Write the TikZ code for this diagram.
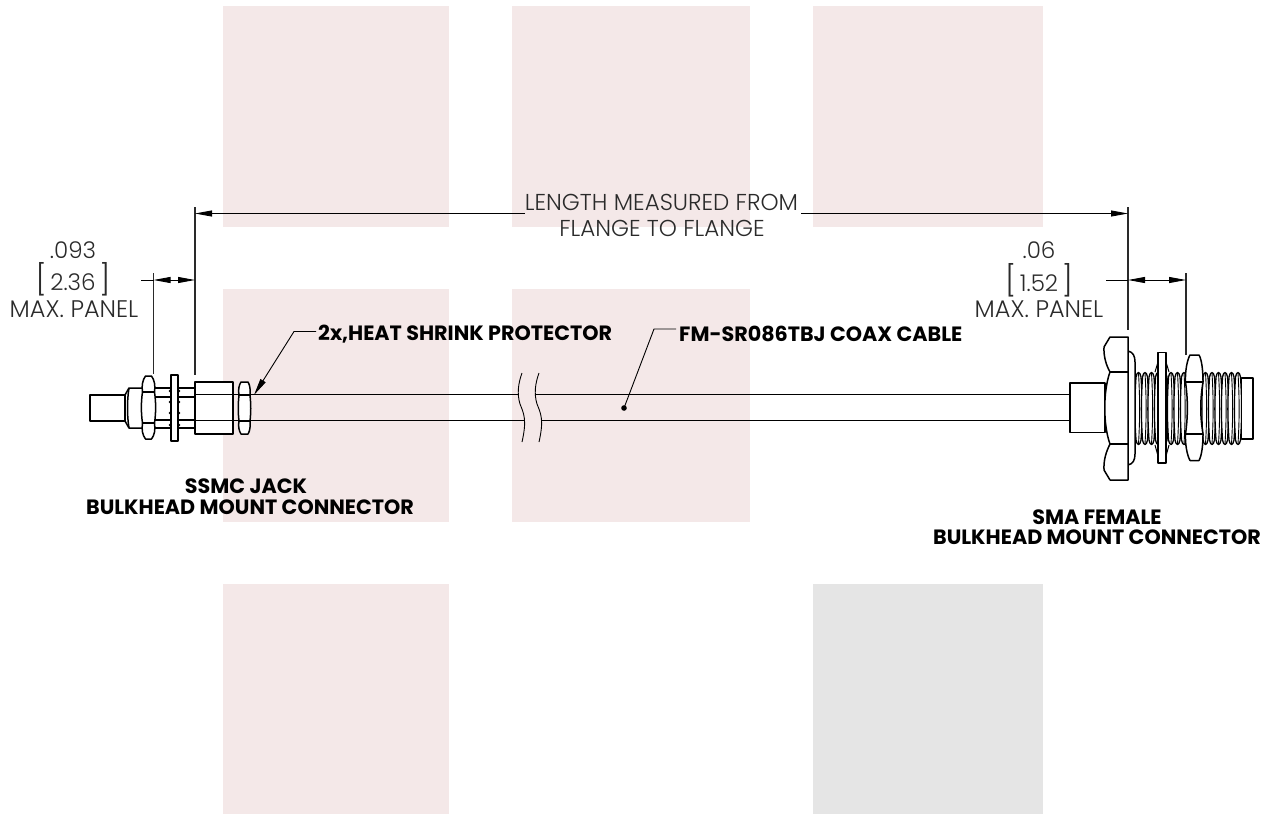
\documentclass[tikz,border=0pt]{standalone}
\usepackage{fontspec}
\setmainfont{Poppins Light}
\newfontfamily\boldf{Poppins Bold}
\usetikzlibrary{arrows.meta}
\definecolor{pinkb}{HTML}{F4E8E8}
\definecolor{grayb}{HTML}{E5E5E5}
\definecolor{inkc}{HTML}{2A2A2A}
\tikzset{
  blockp/.style={fill=pinkb,draw=none},
  blockg/.style={fill=grayb,draw=none},
  part/.style={draw=black,line width=1.5pt,line join=round,fill=white},
  partline/.style={draw=black,line width=1.5pt,line join=round},
  cableline/.style={draw=black,line width=1.3pt},
  thinl/.style={draw=black,line width=0.9pt},
  extl/.style={draw=inkc,line width=1.1pt},
  dimarrow/.style={draw=black,line width=0.9pt,-{Triangle[length=17pt,width=6pt]}},
  lab/.style={text=inkc,font=\fontsize{23}{23}\selectfont,inner sep=0pt,anchor=center},
  panellab/.style={lab,font=\fontsize{24}{24}\selectfont},
  blab/.style={text=black,font=\boldf\fontsize{20.7}{20.7}\selectfont,inner sep=0pt,anchor=center},
}
\newcommand{\thr}[1]{%
  \draw[part,line width=1.3pt,fill=white] (#1,377) .. controls (#1+1,371) and (#1+4,371) .. (#1+5,377)
   .. controls (#1+6.5,400) and (#1+6.5,418) .. (#1+5,440)
   .. controls (#1+4,446) and (#1+1,446) .. (#1,440)
   .. controls (#1-1.5,418) and (#1-1.5,400) .. (#1,377) -- cycle;
  \draw[line width=0.9pt] (#1+2.5,373) .. controls (#1+4,400) and (#1+4,418) .. (#1+2.5,444);}
\begin{document}
\begin{tikzpicture}[x=1pt,y=-1pt]
\useasboundingbox (0,0) rectangle (1273,814);
% background blocks
\fill[blockp] (223,6) rectangle (449,227);
\fill[blockp] (512,6) rectangle (750,227);
\fill[blockp] (813,6) rectangle (1043,227);
\fill[blockp] (223,289) rectangle (449,522);
\fill[blockp] (512,289) rectangle (750,522);
\fill[blockp] (223,584) rectangle (449,814);
\fill[blockg] (813,584) rectangle (1043,814);

% cable
\draw[cableline] (233,394.5) -- (238,394.5) (233,420.5) -- (238,420.5);
\draw[cableline] (250,394.5) -- (519,394.5) (250,420.5) -- (525,420.5);
\draw[cableline] (536,394.5) -- (1070,394.5) (542,420.5) -- (1070,420.5);
% break lines
\foreach \d in {0,17}{
  \draw[thinl] (522+\d,373) .. controls (518+\d,384) and (517+\d,394) .. (520+\d,404)
     .. controls (524+\d,414) and (527+\d,420) .. (522+\d,442);
}

% left connector
\draw[part] (90,395) rectangle (125,421);
\draw[part] (150,388) rectangle (172,428);
\draw[partline] (150,397) -- (195,397) (150,420) -- (195,420) (178,388) -- (195,388) (178,428) -- (195,428);
\draw[part] (125,395) -- (129,388) -- (143,388) -- (143,428) -- (129,428) -- (125,421) -- cycle;
\draw[partline] (129,388) .. controls (127,400) and (127,416) .. (129,428);
\draw[part] (145.5,376) -- (151.5,376) .. controls (154.5,380) and (155.5,386) .. (154.5,392)
  .. controls (156,402) and (156,413) .. (154.5,423)
  .. controls (155.5,430) and (154.5,435) .. (151.5,439) -- (145.5,439)
  .. controls (142.5,435) and (141.5,430) .. (142.5,423)
  .. controls (141,413) and (141,402) .. (142.5,392)
  .. controls (141.5,386) and (142.5,380) .. (145.5,376) -- cycle;
\draw[partline] (142.5,392) -- (154.5,392) (142.5,423) -- (154.5,423);
\fill (170,402) circle (1.3) (179,402) circle (1.3) (170,413) circle (1.3) (179,413) circle (1.3)
      (170,391) circle (1.3) (179,391) circle (1.3) (170,425) circle (1.3) (179,425) circle (1.3);
\draw[part] (171,375) rectangle (178,441);
\draw[part] (195,382) rectangle (233,434);
\draw[partline] (195,394.5) -- (233,394.5) (195,420.5) -- (233,420.5);
\draw[part] (241,382) -- (248,382) .. controls (250,385) and (250.5,390) .. (250,395)
  .. controls (251,405) and (251,412) .. (250,421)
  .. controls (250.5,426) and (250,431) .. (248,434) -- (241,434)
  .. controls (239,431) and (238,426) .. (239,421)
  .. controls (238,412) and (238,405) .. (239,395)
  .. controls (238,390) and (239,385) .. (241,382) -- cycle;
\draw[partline] (239,395) -- (250,395) (239,421) -- (250,421);

% right connector
\draw[part] (1070,383) rectangle (1105,432.5);
\fill[gray!70] (1136,378) rectangle (1186,440) (1203,378) rectangle (1242,440);
\foreach \x in {1136,1142.5,1149,1155.5,1162,1168.5,1175,1181.5}{\thr{\x}}
\foreach \x in {1203,1209.5,1216,1222.5,1229,1235.5}{\thr{\x}}
\draw[part] (1241.5,378) rectangle (1253,439);
\draw[part] (1128,351) .. controls (1133,352) and (1135,356) .. (1135,362) -- (1135,454)
  .. controls (1135,460) and (1133,464) .. (1128,465) -- cycle;
\draw[part] (1110,337) -- (1128,337) -- (1128,480) -- (1110,480) -- (1104,470)
  .. controls (1103.5,460) and (1106,452) .. (1110,444)
  .. controls (1103,425) and (1103,391) .. (1110,372)
  .. controls (1106,365) and (1103.5,356) .. (1104,347) -- cycle;
\draw[partline] (1110,372) -- (1128,372) (1110,444) -- (1128,444);
\draw[partline,line width=1pt] (1155,372) -- (1158,362) (1169,372) -- (1166,362)
   (1155,445) -- (1158,456) (1169,445) -- (1166,456);
\draw[part] (1158,352.5) rectangle (1166,463);
\draw[part] (1190,355) -- (1199,355) .. controls (1202,360) and (1203,372) .. (1203,382)
  .. controls (1200,400) and (1200,416) .. (1203,434)
  .. controls (1203,444) and (1202,455) .. (1199,460.5) -- (1190,460.5)
  .. controls (1187,455) and (1185,444) .. (1185.5,434)
  .. controls (1188,416) and (1188,400) .. (1185.5,382)
  .. controls (1185,372) and (1187,360) .. (1190,355) -- cycle;
\draw[partline] (1185.5,382) -- (1203,382) (1185.5,434) -- (1203,434);

% labels
\node[lab] (lenA) at (661.5,202) {LENGTH MEASURED FROM};
\node[lab] (lenB) at (662,228) {FLANGE TO FLANGE};
\node[lab] (la) at (73,250) {.093};
\node[lab] (lb) at (73,279) {{\fontsize{30}{30}\selectfont[}\,2.36\,{\fontsize{30}{30}\selectfont]}};
\node[panellab] (lc) at (74,309) {MAX. PANEL};
\node[lab] (ra) at (1039,250) {.06};
\node[lab] (rb) at (1039,280) {{\fontsize{30}{30}\selectfont[}\,1.52\,{\fontsize{30}{30}\selectfont]}};
\node[panellab] (rc) at (1039,309) {MAX. PANEL};
\node[blab,anchor=west] (heat) at (318,334) {2x,HEAT SHRINK PROTECTOR};
\node[blab,anchor=west] (coax) at (679,334) {FM-SR086TBJ COAX CABLE};
\node[blab] (ssmcA) at (246,486) {SSMC JACK};
\node[blab] (ssmcB) at (250,507) {BULKHEAD MOUNT CONNECTOR};
\node[blab] (smaA) at (1097,517) {SMA FEMALE};
\node[blab] (smaB) at (1097,537) {BULKHEAD MOUNT CONNECTOR};

% extension lines
\coordinate (eLt) at (195,207); \coordinate (eLb) at (195,375);
\coordinate (eSt) at (153.5,273); \coordinate (eSb) at (153.5,374);
\coordinate (eRt) at (1128,207); \coordinate (eRb) at (1128,330);
\coordinate (eQt) at (1186,273); \coordinate (eQb) at (1186,355);
\draw[extl] (eLt) -- (eLb);
\draw[extl] (eSt) -- (eSb);
\draw[extl] (eRt) -- (eRb);
\draw[extl] (eQt) -- (eQb);
% long dimension
\coordinate (lenL) at (525,213.5); \coordinate (lenR) at (801,213.5);
\coordinate (tipL) at (195,213.5); \coordinate (tipR) at (1128,213.5);
\draw[dimarrow] (lenL) -- (tipL);
\draw[dimarrow] (lenR) -- (tipR);
% panel dimensions
\coordinate (pLo) at (141,280); \coordinate (pLa) at (153.5,280); \coordinate (pLb) at (195,280);
\coordinate (pLm) at (174.5,280);
\draw[thinl] (pLo) -- (pLa);
\draw[dimarrow] (pLm) -- (pLa);
\draw[dimarrow] (pLm) -- (pLb);
\coordinate (pRo) at (1106,280); \coordinate (pRa) at (1128,280); \coordinate (pRb) at (1186,280);
\coordinate (pRm) at (1157,280);
\draw[thinl] (pRo) -- (pRa);
\draw[dimarrow] (pRm) -- (pRa);
\draw[dimarrow] (pRm) -- (pRb);
% leaders
\coordinate (hs) at (316,331.5); \coordinate (hk) at (294,331.5); \coordinate (ht) at (254,395);
\draw[dimarrow] (hs) -- (hk) -- (ht);
\coordinate (cs) at (676,329); \coordinate (ck) at (654,329); \coordinate (cd) at (624,408);
\draw[thinl] (cs) -- (ck) -- (cd);
\fill (cd) circle (2.8);
\end{tikzpicture}
\end{document}
